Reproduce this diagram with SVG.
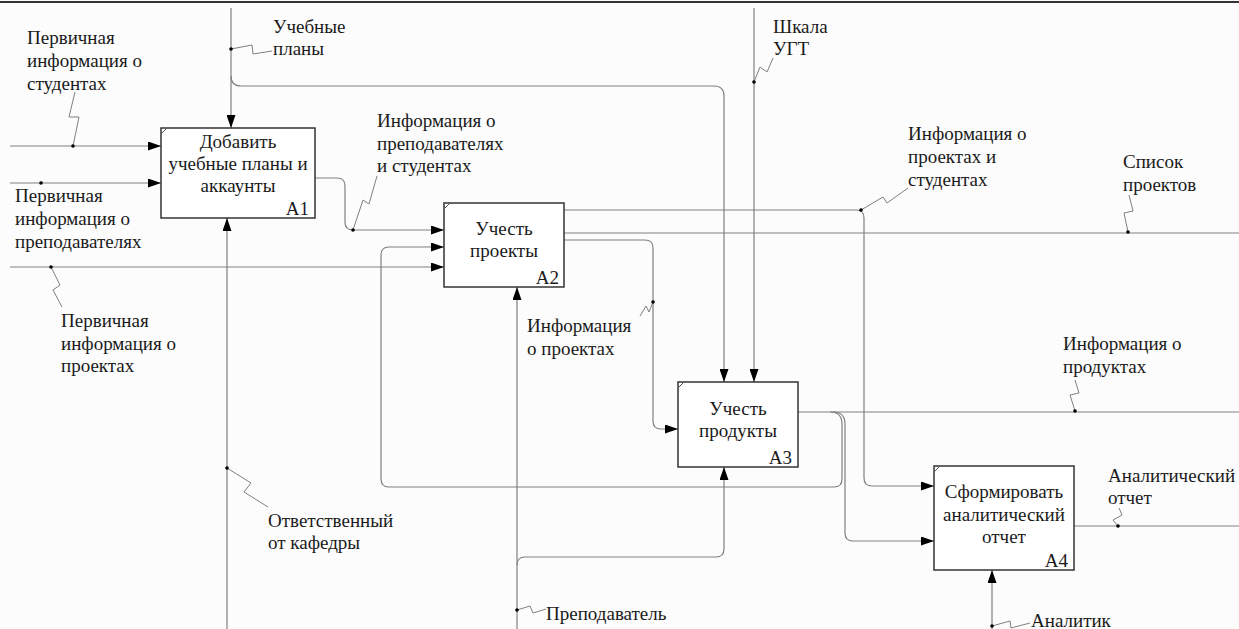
<svg xmlns="http://www.w3.org/2000/svg" width="1239" height="629" viewBox="0 0 1239 629">
<defs>
<marker id="ah" markerUnits="userSpaceOnUse" markerWidth="13" markerHeight="9" refX="13" refY="4.5" orient="auto">
<path d="M0,0 L13,4.5 L0,9 z" fill="#000"/>
</marker>
</defs>
<rect x="0" y="0" width="1239" height="629" fill="#fcfcfc"/>
<line x1="0" y1="2" x2="1239" y2="2" stroke="#333" stroke-width="2"/>

<g id="connectors" fill="none" stroke="#808080" stroke-width="1.2">
<path marker-end="url(#ah)" d="M10,146 H161"/>
<path marker-end="url(#ah)" d="M10,183 H161"/>
<path marker-end="url(#ah)" d="M10,267 H444"/>
<path marker-end="url(#ah)" d="M231,8 V128"/>
<path marker-end="url(#ah)" d="M231,76 Q231,86 241,86 H714 Q724,86 724,96 V382"/>
<path marker-end="url(#ah)" d="M754,8 V382"/>
<path marker-end="url(#ah)" d="M315,178 H337 Q345,178 345,186 V222 Q345,230 353,230 H444"/>
<path marker-end="url(#ah)" d="M564,210 H856 Q864,210 864,218 V478 Q864,486 872,486 H934"/>
<path d="M564,233 H1239"/>
<path marker-end="url(#ah)" d="M564,240 H645 Q653,240 653,248 V421 Q653,429 661,429 H678"/>
<path d="M798,412 H1239"/>
<path marker-end="url(#ah)" d="M830,412 Q842,412 842,424 V479 Q842,487 834,487 H389 Q381,487 381,479 V255 Q381,247 389,247 H444"/>
<path marker-end="url(#ah)" d="M833,412 Q845,412 845,424 V533 Q845,541 853,541 H934"/>
<path marker-end="url(#ah)" d="M517,629 V287"/>
<path marker-end="url(#ah)" d="M517,565 Q517,557 525,557 H716 Q724,557 724,549 V467"/>
<path marker-end="url(#ah)" d="M227,629 V218"/>
<path d="M1074,526 H1239"/>
<path marker-end="url(#ah)" d="M992,629 V570"/>
<g stroke-width="1">
<polyline points="73,146 79,117 69,117 75,92"/>
<polyline points="41,183 42,181"/>
<polyline points="51,267 60,285 53,290 62,307"/>
<polyline points="231,49 252,45 253,54 272,51"/>
<polyline points="754,82 760,67 767,72 773,58"/>
<polyline points="353,230 363,200 369,204 377,176"/>
<polyline points="861,210 883,197 887,203 908,188"/>
<polyline points="1128,232 1124,213 1133,211 1129,195"/>
<polyline points="653,302 649,312 646,306 640,316"/>
<polyline points="1075,411 1070,395 1079,393 1075,380"/>
<polyline points="227,468 251,483 244,492 268,507"/>
<polyline points="1118,526 1113,520 1122,515 1119,508"/>
<polyline points="517,610 530,606 533,613 546,609"/>
<polyline points="992,626 1010,621 1011,628 1030,623"/>
</g>
<g fill="#000" stroke="none">
<circle cx="73" cy="146" r="1.8"/>
<circle cx="41" cy="183" r="1.8"/>
<circle cx="51" cy="267" r="1.8"/>
<circle cx="231" cy="49" r="1.8"/>
<circle cx="754" cy="82" r="1.8"/>
<circle cx="353" cy="230" r="1.8"/>
<circle cx="861" cy="210" r="1.8"/>
<circle cx="1128" cy="232" r="1.8"/>
<circle cx="653" cy="302" r="1.8"/>
<circle cx="1075" cy="411" r="1.8"/>
<circle cx="227" cy="468" r="1.8"/>
<circle cx="1118" cy="526" r="1.8"/>
<circle cx="517" cy="610" r="1.8"/>
<circle cx="992" cy="626" r="1.8"/>
</g>
</g>

<g id="A1">
<rect x="161" y="128" width="154" height="90" fill="#fff" stroke="#333" stroke-width="1.5"/>
<line x1="161" y1="134" x2="167" y2="128" stroke="#555" stroke-width="1"/>
<text font-family="Liberation Serif" font-size="19" fill="#1a1a1a" text-anchor="middle" x="238" y="148">Добавить</text>
<text font-family="Liberation Serif" font-size="19" fill="#1a1a1a" text-anchor="middle" x="238" y="170">учебные планы и</text>
<text font-family="Liberation Serif" font-size="19" fill="#1a1a1a" text-anchor="middle" x="238" y="192">аккаунты</text>
<text font-family="Liberation Serif" font-size="19" fill="#1a1a1a" text-anchor="end" x="309" y="215">A1</text>
</g>

<g id="A2">
<rect x="444" y="203" width="120" height="84" fill="#fff" stroke="#333" stroke-width="1.5"/>
<line x1="444" y1="209" x2="450" y2="203" stroke="#555" stroke-width="1"/>
<text font-family="Liberation Serif" font-size="19" fill="#1a1a1a" text-anchor="middle" x="504" y="235">Учесть</text>
<text font-family="Liberation Serif" font-size="19" fill="#1a1a1a" text-anchor="middle" x="504" y="257">проекты</text>
<text font-family="Liberation Serif" font-size="19" fill="#1a1a1a" text-anchor="end" x="559" y="284">A2</text>
</g>

<g id="A3">
<rect x="678" y="382" width="120" height="85" fill="#fff" stroke="#333" stroke-width="1.5"/>
<line x1="678" y1="388" x2="684" y2="382" stroke="#555" stroke-width="1"/>
<text font-family="Liberation Serif" font-size="19" fill="#1a1a1a" text-anchor="middle" x="738" y="415">Учесть</text>
<text font-family="Liberation Serif" font-size="19" fill="#1a1a1a" text-anchor="middle" x="738" y="437">продукты</text>
<text font-family="Liberation Serif" font-size="19" fill="#1a1a1a" text-anchor="end" x="792" y="464">A3</text>
</g>

<g id="A4">
<rect x="934" y="466" width="140" height="104" fill="#fff" stroke="#333" stroke-width="1.5"/>
<line x1="934" y1="472" x2="940" y2="466" stroke="#555" stroke-width="1"/>
<text font-family="Liberation Serif" font-size="19" fill="#1a1a1a" text-anchor="middle" x="1004" y="498">Сформировать</text>
<text font-family="Liberation Serif" font-size="19" fill="#1a1a1a" text-anchor="middle" x="1004" y="521">аналитический</text>
<text font-family="Liberation Serif" font-size="19" fill="#1a1a1a" text-anchor="middle" x="1004" y="543">отчет</text>
<text font-family="Liberation Serif" font-size="19" fill="#1a1a1a" text-anchor="end" x="1068" y="567">A4</text>
</g>

<g id="labels">
<text font-family="Liberation Serif" font-size="19" fill="#1a1a1a" x="27" y="44">Первичная</text>
<text font-family="Liberation Serif" font-size="19" fill="#1a1a1a" x="27" y="67">информация о</text>
<text font-family="Liberation Serif" font-size="19" fill="#1a1a1a" x="27" y="90">студентах</text>
<text font-family="Liberation Serif" font-size="19" fill="#1a1a1a" x="15" y="202">Первичная</text>
<text font-family="Liberation Serif" font-size="19" fill="#1a1a1a" x="15" y="225">информация о</text>
<text font-family="Liberation Serif" font-size="19" fill="#1a1a1a" x="15" y="248">преподавателях</text>
<text font-family="Liberation Serif" font-size="19" fill="#1a1a1a" x="61" y="327">Первичная</text>
<text font-family="Liberation Serif" font-size="19" fill="#1a1a1a" x="61" y="350">информация о</text>
<text font-family="Liberation Serif" font-size="19" fill="#1a1a1a" x="61" y="372">проектах</text>
<text font-family="Liberation Serif" font-size="19" fill="#1a1a1a" x="273" y="33">Учебные</text>
<text font-family="Liberation Serif" font-size="19" fill="#1a1a1a" x="273" y="55">планы</text>
<text font-family="Liberation Serif" font-size="19" fill="#1a1a1a" x="773" y="33">Шкала</text>
<text font-family="Liberation Serif" font-size="19" fill="#1a1a1a" x="773" y="55">УГТ</text>
<text font-family="Liberation Serif" font-size="19" fill="#1a1a1a" x="377" y="127">Информация о</text>
<text font-family="Liberation Serif" font-size="19" fill="#1a1a1a" x="377" y="150">преподавателях</text>
<text font-family="Liberation Serif" font-size="19" fill="#1a1a1a" x="377" y="172">и студентах</text>
<text font-family="Liberation Serif" font-size="19" fill="#1a1a1a" x="908" y="140">Информация о</text>
<text font-family="Liberation Serif" font-size="19" fill="#1a1a1a" x="908" y="163">проектах и</text>
<text font-family="Liberation Serif" font-size="19" fill="#1a1a1a" x="908" y="186">студентах</text>
<text font-family="Liberation Serif" font-size="19" fill="#1a1a1a" x="1123" y="168">Список</text>
<text font-family="Liberation Serif" font-size="19" fill="#1a1a1a" x="1123" y="191">проектов</text>
<text font-family="Liberation Serif" font-size="19" fill="#1a1a1a" x="527" y="332">Информация</text>
<text font-family="Liberation Serif" font-size="19" fill="#1a1a1a" x="527" y="355">о проектах</text>
<text font-family="Liberation Serif" font-size="19" fill="#1a1a1a" x="1063" y="350">Информация о</text>
<text font-family="Liberation Serif" font-size="19" fill="#1a1a1a" x="1063" y="373">продуктах</text>
<text font-family="Liberation Serif" font-size="19" fill="#1a1a1a" x="268" y="527">Ответственный</text>
<text font-family="Liberation Serif" font-size="19" fill="#1a1a1a" x="268" y="549">от кафедры</text>
<text font-family="Liberation Serif" font-size="19" fill="#1a1a1a" x="1108" y="482">Аналитический</text>
<text font-family="Liberation Serif" font-size="19" fill="#1a1a1a" x="1108" y="504">отчет</text>
<text font-family="Liberation Serif" font-size="19" fill="#1a1a1a" x="546" y="620">Преподаватель</text>
<text font-family="Liberation Serif" font-size="19" fill="#1a1a1a" x="1031" y="627">Аналитик</text>
</g>
</svg>
